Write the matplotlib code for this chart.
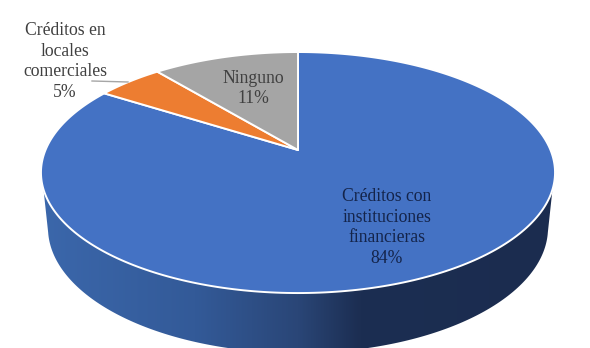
import numpy as np
import matplotlib
matplotlib.use('Agg')
import matplotlib.pyplot as plt
from matplotlib.patches import Polygon
from matplotlib.colors import LinearSegmentedColormap

labels = ['Créditos con\ninstituciones\nfinancieras', 'Créditos en\nlocales\ncomerciales', 'Ninguno']
shares = [84, 5, 11]
colors = ['#4472c4', '#ed7d31', '#a5a5a5']
text_colors = ['#14244a', '#404040', '#404040']

plt.rcParams['font.family'] = ['Liberation Serif', 'DejaVu Serif']

#pie apex and the tilt of the disc, in pixels
cx, cy = 298, 150
a, b, k = 252.5, 116.3, 0.187

#rim ellipses: top face and bottom of the side wall
top_y, top_rx, top_ry = 172.5, 257, 120.5
bot_y, bot_rx, bot_ry = 228, 250, 125


def project(theta):
	#theta is clockwise from 12 o'clock, radians, r=1 on the rim
	u = np.sin(theta)
	v = np.cos(theta)
	w = 1 + k*v
	return cx + a*u/w, cy - b*v/w


def rim(y0, rx, ry, t0, t1):
	t = np.radians(np.linspace(t0, t1, 200))
	return np.column_stack([cx + rx*np.cos(t), y0 + ry*np.sin(t)])


fig = plt.figure(figsize=(5.9, 3.48), dpi=100)
ax = fig.add_axes([0, 0, 1, 1])

#side wall, shaded left to right
side = np.vstack([rim(top_y, top_rx, top_ry, 172, 8), rim(bot_y, bot_rx, bot_ry, 2, 178)])
patch = Polygon(side, closed=True, fc='none', ec='none')
ax.add_patch(patch)
cmap = LinearSegmentedColormap.from_list('wall', [(0, '#3b67ab'), (0.3, '#335a98'), (0.5, '#2a4677'), (0.62, '#1c2e52'), (1, '#1b2c4f')])
im = ax.imshow(np.linspace(0, 1, 256).reshape(1, -1), cmap=cmap, aspect='auto', extent=[41, 555, 353, 190], zorder=1)
im.set_clip_path(patch)

#top face, slices run clockwise from 12 o'clock
edges = np.cumsum([0] + shares)/100*2*np.pi
for i in range(len(shares)):
	theta = np.linspace(edges[i], edges[i+1], 300)
	x, y = project(theta)
	pts = np.vstack([[cx, cy], np.column_stack([x, y])])
	ax.add_patch(Polygon(pts, closed=True, fc=colors[i], ec='white', lw=1.4, joinstyle='round', zorder=2))

#leader for the small slice
ax.plot([92, 128], [81, 82], color='#a6a6a6', lw=1, zorder=3)

ax.text(387, 227.5, labels[0] + '\n' + str(shares[0]) + '%', ha='center', va='center', fontsize=12.7, color=text_colors[0], linespacing=1.3, zorder=4)
ax.text(65, 61.5, labels[1] + '\n' + str(shares[1]) + '%', ha='center', va='center', fontsize=12.7, color=text_colors[1], linespacing=1.3, zorder=4)
ax.text(253, 88.5, labels[2] + '\n' + str(shares[2]) + '%', ha='center', va='center', fontsize=12.7, color=text_colors[2], linespacing=1.3, zorder=4)

ax.set_xlim(0, 590)
ax.set_ylim(348, 0)
ax.axis('off')
fig.savefig('out.png', dpi=100)
